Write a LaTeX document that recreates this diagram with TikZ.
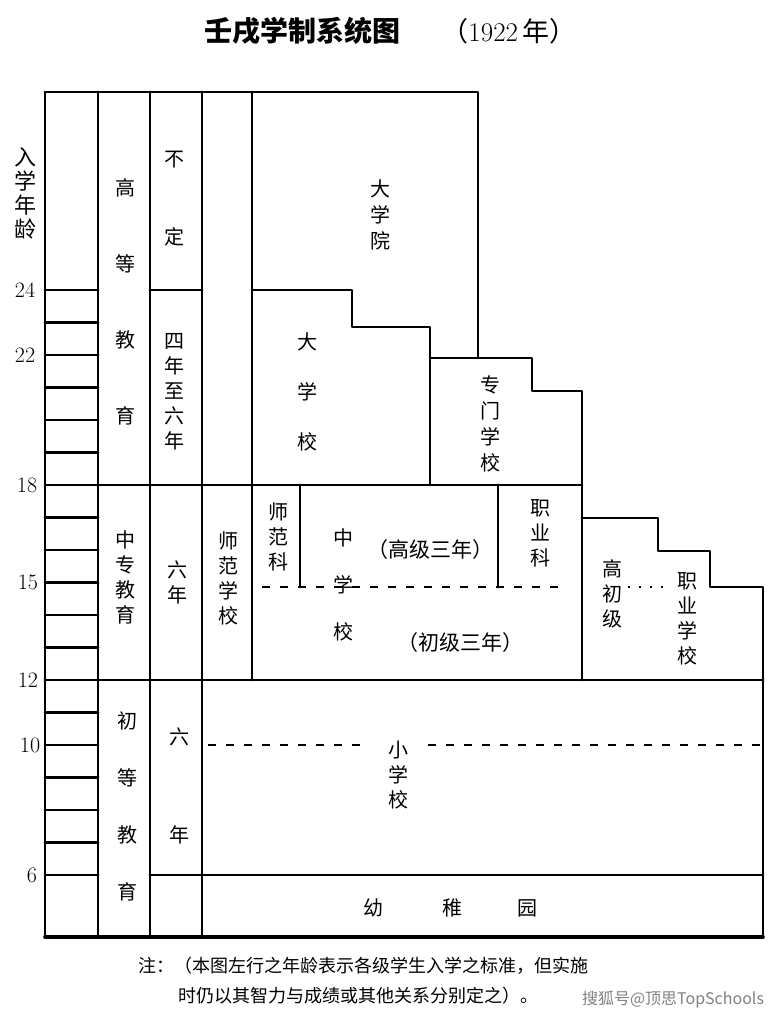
\documentclass[tikz,border=0pt]{standalone}
\usepackage{fontspec}
\newfontfamily\cjk{Noto Sans CJK SC}

\begin{document}
\begin{tikzpicture}[x=1pt,y=-1pt,
    frame/.style={line width=2.8pt,line cap=round,line join=round},
    dashline/.style={line width=2.2pt,dash pattern=on 8pt off 10pt},
    dotline/.style={line width=1.8pt,dash pattern=on 2pt off 9pt},
    cell/.style={font=\cjk\fontsize{20}{#1}\selectfont,align=center,inner sep=0pt},
    cell/.default=25,
    age/.style={font=\fontsize{22}{22}\selectfont,inner sep=0pt}]

\useasboundingbox (0,0) rectangle (776,1018);

% title
\node[font=\cjk\bfseries\fontsize{28}{28}\selectfont] (title) at (302,31) {壬戌学制系统图};
\node[font=\fontsize{27}{27}\selectfont] (year) at (509,31) {{\cjk （}1922\,{\cjk 年）}};

% age column
\draw[frame] (45,92) rectangle (98,937);
\foreach \a in {6,...,24}
    \draw[frame] (45,{875-32.5*(\a-6)}) -- (98,{875-32.5*(\a-6)});
\foreach \a/\x in {24/25,22/25,18/27,15/28,12/28,10/30,6/32}
    \node[age] (age\a) at (\x,{875-32.5*(\a-6)}) {\a};
\node[cell=24,font=\cjk\fontsize{22}{24}\selectfont] (agetitle) at (25,193) {入\\学\\年\\龄};

% columns and rows
\draw[frame] (98,92) -- (98,937) (150,92) -- (150,937) (202,92) -- (202,937) (252,92) -- (252,680);
\draw[frame] (45,92) -- (478,92) -- (478,358);
\draw[frame] (150,290) -- (202,290);
\draw[frame] (98,485) -- (582,485);
\draw[frame] (98,680) -- (763,680);
\draw[frame] (150,875) -- (763,875);
\draw[frame,line width=3.6pt] (45,937) -- (763,937);

% university steps
\draw[frame] (252,290) -- (352,290) -- (352,327) -- (430,327) -- (430,358) -- (532,358)
    -- (532,391) -- (582,391) -- (582,680);
\draw[frame] (430,358) -- (430,485);

% middle school
\draw[frame] (300,485) -- (300,587) (498,485) -- (498,587);
\draw[dashline] (262,587) -- (558,587);
\draw[frame] (582,518) -- (658,518) -- (658,551) -- (710,551) -- (710,587) -- (763,587) -- (763,937);
\draw[dotline] (628,587) -- (667,587);

% primary school
\draw[dashline] (208,745) -- (365,745) (428,745) -- (763,745);

% labels
\node[cell=76] (gaodeng) at (125,302) {高\\等\\教\\育};
\node[cell=78] (buding) at (174,199) {不\\定};
\node[cell] (sinian) at (174,392) {四\\年\\至\\六\\年};
\node[cell] (zhongzhuan) at (125,577) {中\\专\\教\\育};
\node[cell] (liunian) at (177,582) {六\\年};
\node[cell] (shifanxx) at (228,578) {师\\范\\学\\校};
\node[cell=57] (chudeng) at (127,806) {初\\等\\教\\育};
\node[cell=98] (liunianb) at (179,786) {六\\年};

\node[cell=26] (daxueyuan) at (380,215) {大\\学\\院};
\node[cell=50] (daxue) at (307,392) {大\\学\\校};
\node[cell=26] (zhuanmen) at (490,424) {专\\门\\学\\校};

\node[cell] (shifanke) at (278,537) {师\\范\\科};
\node[cell] (zhiyeke) at (540,533) {职\\业\\科};
\node[cell=47] (zhongxue) at (343,585) {中\\学\\校};
\node[cell,font=\cjk\fontsize{21}{21}\selectfont] (gaoji) at (430,550) {（高级三年）};
\node[cell,font=\cjk\fontsize{21}{21}\selectfont] (chuji) at (460,643) {（初级三年）};
\node[cell] (gaochuji) at (612,594) {高\\初\\级};
\node[cell] (zhiyexx) at (687,619) {职\\业\\学\\校};

\node[cell] (xiaoxue) at (398,775) {小\\学\\校};
\node[cell] (youzhi) at (450,908) {幼\hspace{59pt}稚\hspace{55pt}园};

% note
\node[cell,font=\cjk\fontsize{18}{18}\selectfont,anchor=west] (note1) at (138,966)
    {注：（本图左行之年龄表示各级学生入学之标准，但实施};
\node[cell,font=\cjk\fontsize{18}{18}\selectfont,anchor=west] (note2) at (178,996)
    {时仍以其智力与成绩或其他关系分别定之）。};
\node[cell,font=\cjk\fontsize{16}{16}\selectfont,text=gray] (mark) at (673,1000) {搜狐号@顶思TopSchools};
\end{tikzpicture}
\end{document}
